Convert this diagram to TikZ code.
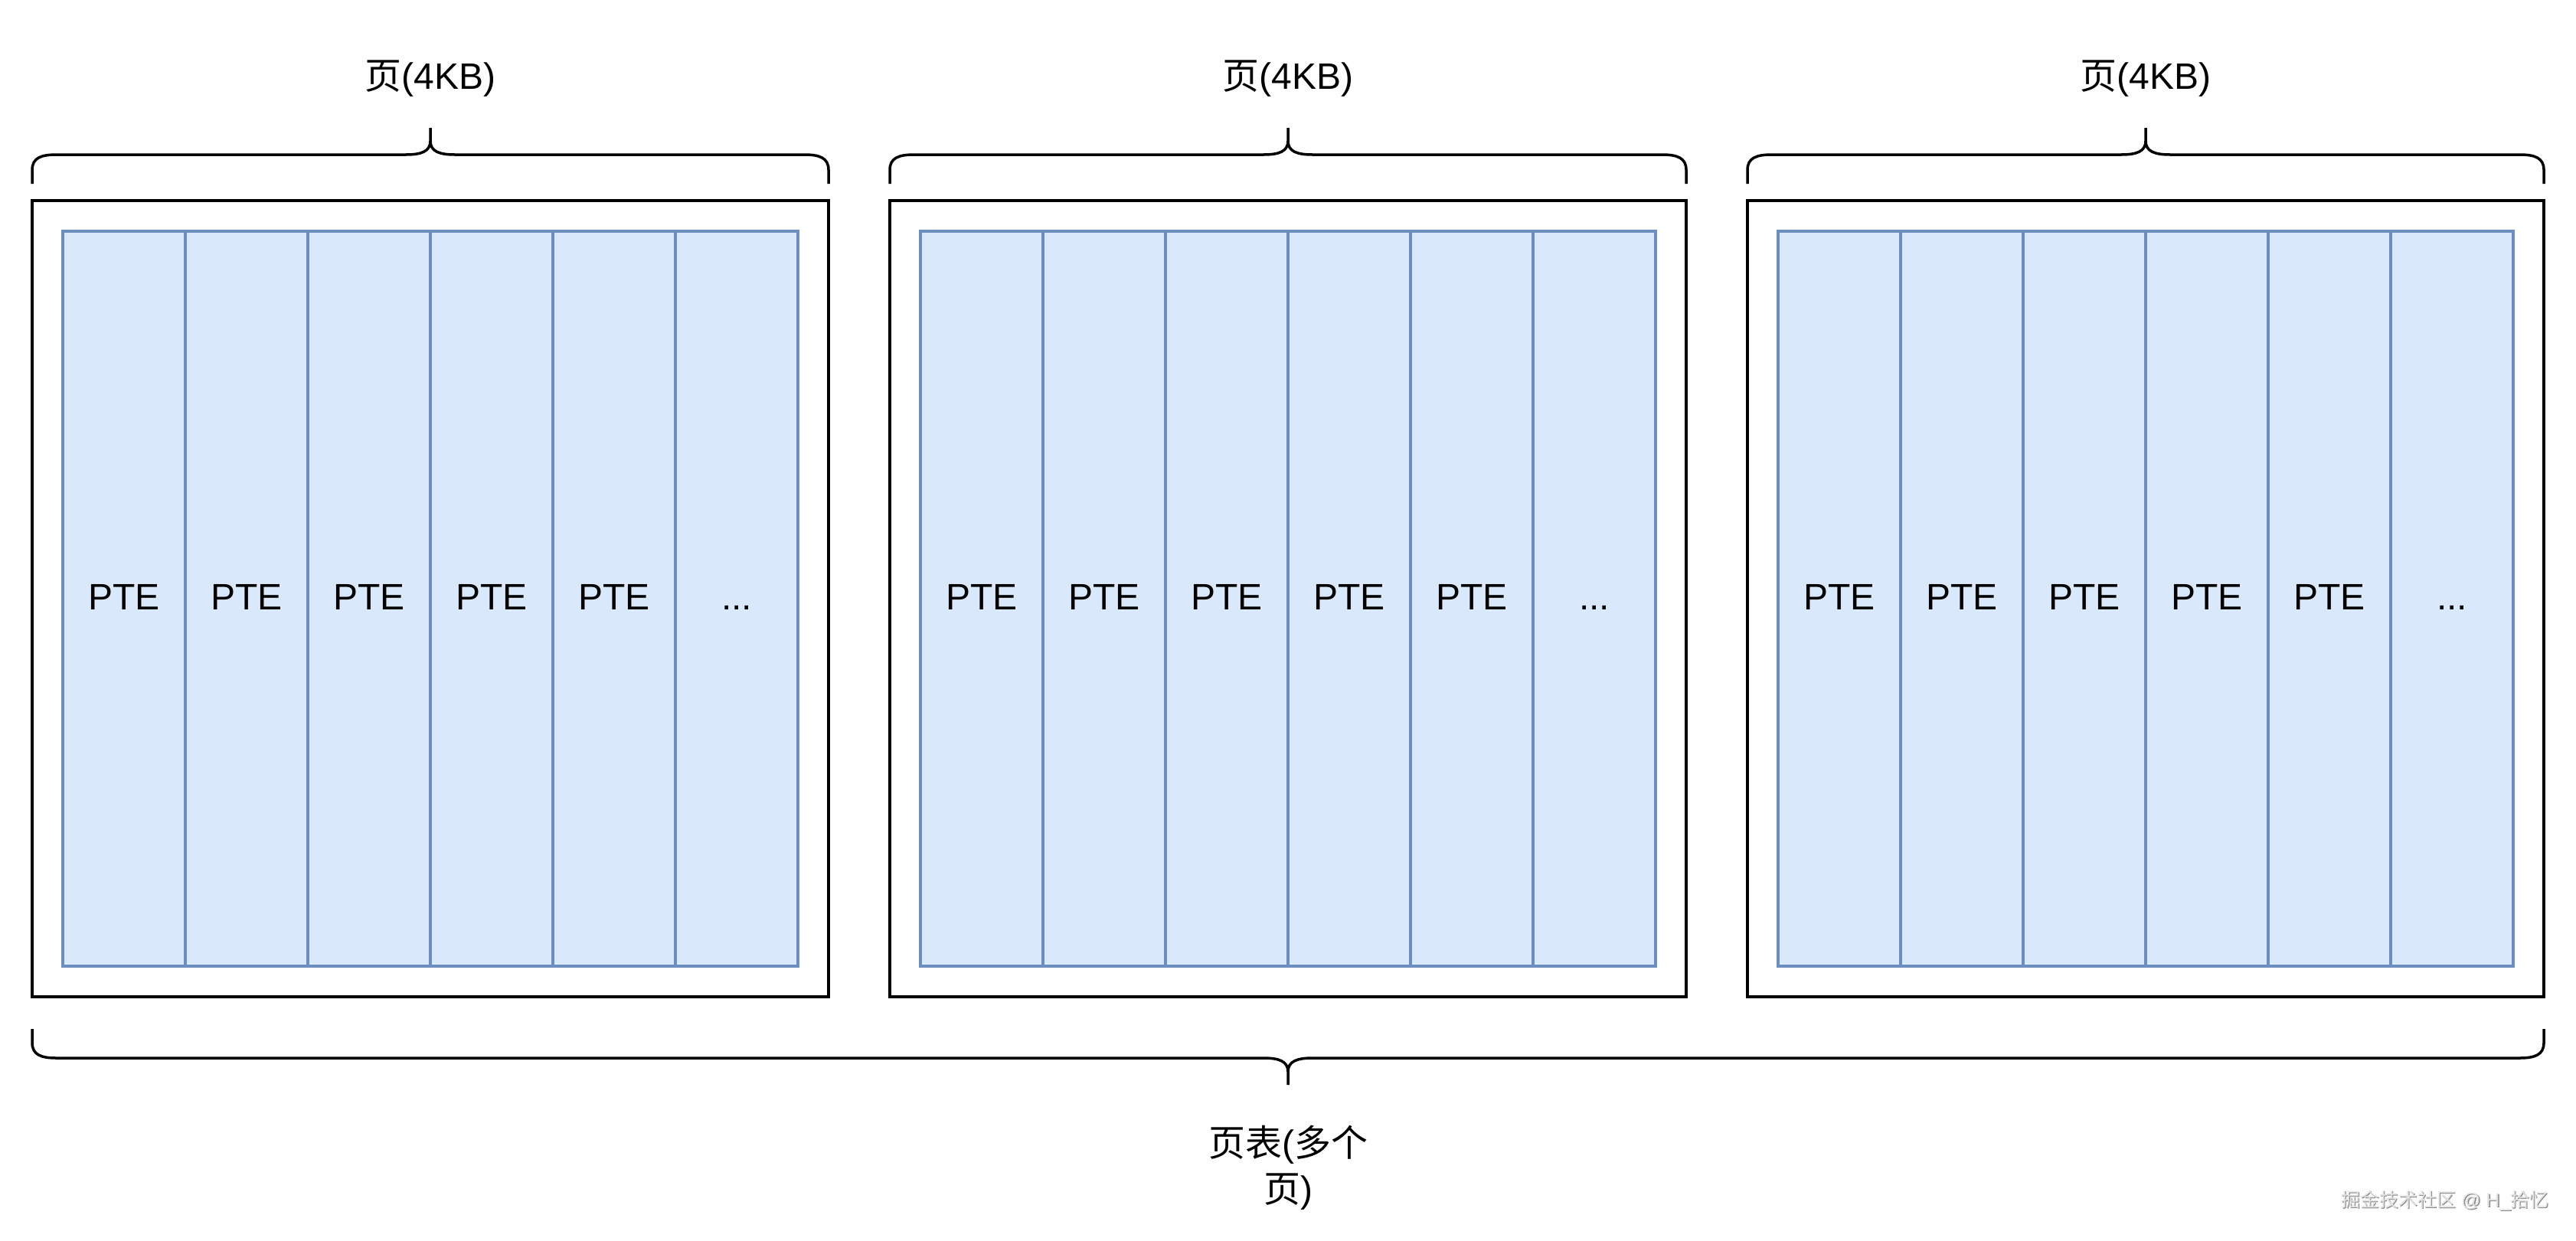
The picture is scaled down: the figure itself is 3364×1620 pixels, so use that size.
\documentclass[tikz,border=0pt]{standalone}
\usepackage{fontspec}
\setmainfont{Liberation Sans}
\newfontfamily\cjk{Noto Sans CJK SC}
\definecolor{cellfill}{HTML}{DAE8FC}
\definecolor{cellline}{HTML}{6C8EBF}
\definecolor{wmlight}{HTML}{E2E2E2}
\definecolor{wmdark}{HTML}{858585}
\newcommand\pagebrace[4]{%
  \pgfmathsetmacro\bxa{#1}%
  \pgfmathsetmacro\bxb{#2}%
  \pgfmathsetmacro\bxm{(#1+#2)/2}%
  \pgfmathsetmacro\byend{#3+(#4)*38}%
  \pgfmathsetmacro\bycorner{#3+(#4)*20}%
  \pgfmathsetmacro\bycc{#3+(#4)*4}%
  \pgfmathsetmacro\bytc{#3-(#4)*4}%
  \pgfmathsetmacro\bytj{#3-(#4)*18}%
  \pgfmathsetmacro\bytip{#3-(#4)*35}%
  \draw[bracepath] (\bxa,\byend) -- (\bxa,\bycorner)
    .. controls (\bxa,\bycc) and (\bxa+12,#3) .. (\bxa+32,#3)
    -- (\bxm-32,#3)
    .. controls (\bxm-12,#3) and (\bxm,\bytc) .. (\bxm,\bytj)
    -- (\bxm,\bytip);
  \draw[bracepath] (\bxm,\bytj)
    .. controls (\bxm,\bytc) and (\bxm+12,#3) .. (\bxm+32,#3)
    -- (\bxb-32,#3)
    .. controls (\bxb-12,#3) and (\bxb,\bycc) .. (\bxb,\bycorner)
    -- (\bxb,\byend);
}
\begin{document}
\begin{tikzpicture}[x=1pt,y=-1pt,
  frame/.style={draw=black,line width=3.5pt,minimum width=1040pt,minimum height=1040pt,inner sep=0pt},
  cell/.style={draw=cellline,fill=cellfill,line width=3.2pt,minimum width=160pt,minimum height=960pt,
    inner sep=0pt,text height=28pt,text depth=0pt,font=\fontsize{48}{58}\selectfont},
  bracepath/.style={draw=black,line width=3.5pt,line join=round,line cap=butt},
  lbl/.style={font=\fontsize{48}{60}\selectfont,inner sep=0pt},
  wm/.style={font=\fontsize{25}{30}\selectfont,inner sep=0pt,anchor=base west}]
\fill[white] (0,0) rectangle (3364,1620);
\useasboundingbox (0,0) rectangle (3364,1620);
\foreach \i/\xl in {1/42,2/1162,3/2282} {
  \node[frame] (page\i) at (\xl+520,782) {};
  \foreach \j in {1,...,6} {
    \node[cell] (pte\i-\j) at (\xl+160*\j-40,782) {\ifnum\j<6 PTE\else ...\fi};
  }
  \node[lbl,anchor=base] (lab\i) at (\xl+520,116) {{\cjk 页}(4KB)};
  \pagebrace{\xl}{\xl+1040}{202}{1}
}
\pagebrace{42}{3322}{1382}{-1}
\node[lbl,anchor=north,align=center] (total) at (1682,1470) {{\cjk 页表}({\cjk 多个}\\{\cjk 页})};
\node[wm,text=wmdark] (wmshadow) at (3058.5,1577.5) {{\cjk 掘金技术社区} @ H\_{\cjk 拾忆}};
\node[wm,text=wmlight] (wmark) at (3057,1576) {{\cjk 掘金技术社区} @ H\_{\cjk 拾忆}};
\end{tikzpicture}
\end{document}
